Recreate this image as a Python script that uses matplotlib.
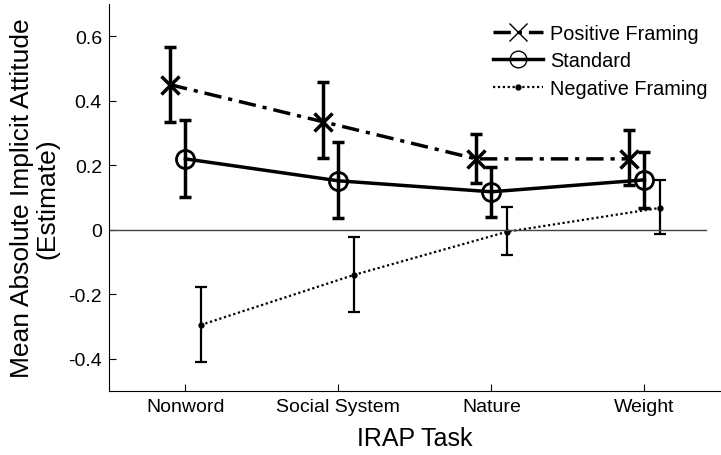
import numpy as np
import matplotlib.pyplot as plt
from matplotlib.lines import Line2D

plt.rcParams['font.family'] = ['Liberation Sans', 'DejaVu Sans']

tasks = ['Nonword', 'Social System', 'Nature', 'Weight']

pos_mean = [0.45, 0.335, 0.22, 0.22]
pos_low = [0.335, 0.222, 0.146, 0.14]
pos_high = [0.567, 0.457, 0.298, 0.31]

std_mean = [0.22, 0.152, 0.118, 0.155]
std_low = [0.103, 0.036, 0.04, 0.068]
std_high = [0.34, 0.272, 0.195, 0.242]

neg_mean = [-0.295, -0.14, -0.006, 0.068]
neg_low = [-0.41, -0.254, -0.078, -0.012]
neg_high = [-0.177, -0.022, 0.072, 0.155]

x = np.arange(1, len(tasks) + 1)

fig = plt.figure(figsize=(7.21, 4.56), dpi=100)
ax = fig.add_axes([0.151, 0.14, 0.849, 0.849])

pos_ls = (0, (5, 2, 1.2, 2))

def draw(offset, mean, low, high, fmt, ls, lw, ms, mfc='none', mew=2):
    mean = np.array(mean)
    err = [mean - np.array(low), np.array(high) - mean]
    ax.errorbar(x + offset, mean, yerr=err, fmt='none', ecolor='black',
                elinewidth=lw, capsize=4, capthick=lw)
    ax.plot(x + offset, mean, color='black', linestyle=ls, linewidth=lw,
            marker=fmt, markersize=ms, markerfacecolor=mfc, markeredgewidth=mew)

draw(-0.1, pos_mean, pos_low, pos_high, 'x', pos_ls, 2.5, 13, mew=2.5)
draw(0.0, std_mean, std_low, std_high, 'o', '-', 2.5, 13, mew=2)
draw(0.1, neg_mean, neg_low, neg_high, '.', (0, (1, 1.2)), 1.6, 7,
     mfc='black', mew=1)

ax.axhline(0, xmin=0, xmax=0.975, color='#444444', linewidth=1)

ax.set_xlim(0.5, 4.5)
ax.set_ylim(-0.5, 0.7)
ax.set_xticks(x)
ax.set_xticklabels(tasks)
ax.set_yticks([-0.4, -0.2, 0, 0.2, 0.4, 0.6])
ax.set_yticklabels(['-0.4', '-0.2', '0', '0.2', '0.4', '0.6'])
ax.tick_params(direction='in', labelsize=14, length=5, pad=5)
ax.spines['top'].set_visible(False)
ax.spines['right'].set_visible(False)

ax.set_xlabel('IRAP Task', fontsize=18, labelpad=8)
ax.set_ylabel('Mean Absolute Implicit Attitude\n(Estimate)', fontsize=19,
              linespacing=1.12, labelpad=6)

handles = [
    Line2D([], [], color='black', linestyle=pos_ls, linewidth=2.5, marker='x',
           markersize=13, markeredgewidth=1),
    Line2D([], [], color='black', linestyle='-', linewidth=2.5, marker='o',
           markersize=12, markeredgewidth=1, markerfacecolor='none'),
    Line2D([], [], color='black', linestyle=(0, (1, 1.2)), linewidth=1.6,
           marker='.', markersize=7, markerfacecolor='black'),
]
labels = ['Positive Framing', 'Standard', 'Negative Framing']
ax.legend(handles, labels, loc='upper right', frameon=False, fontsize=14.3,
          handlelength=2.5, handletextpad=0.35, labelspacing=0.42,
          bbox_to_anchor=(1.007, 0.995))

plt.savefig('out.png', dpi=100)
plt.close()
